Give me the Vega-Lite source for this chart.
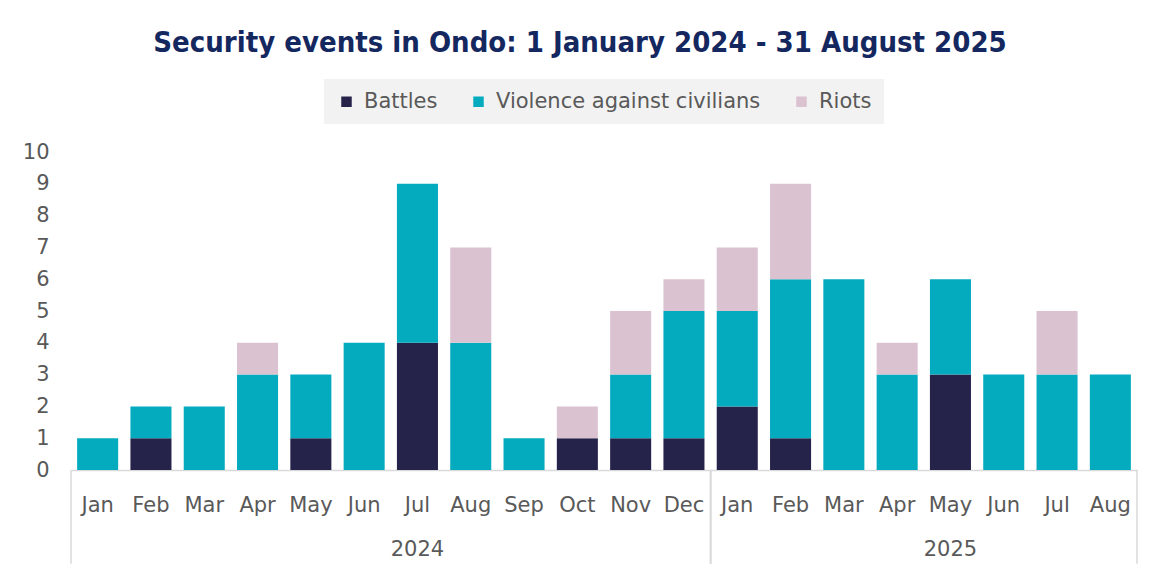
{
  "$schema": "https://vega.github.io/schema/vega-lite/v6.json",
  "width": 1066,
  "height": 318,
  "padding": {"left": 22, "top": 29, "right": 15, "bottom": 3},
  "background": "white",
  "config": {
    "font": "DejaVu Sans",
    "view": {"stroke": null},
    "legend": {"layout": {"top": {"anchor": "middle"}}}
  },
  "title": {
    "text": "Security events in Ondo: 1 January 2024 - 31 August 2025",
    "font": "DejaVu Sans Condensed",
    "fontSize": 29,
    "fontWeight": "bold",
    "color": "#14285f",
    "anchor": "middle",
    "frame": "bounds",
    "offset": 21
  },
  "datasets": {
    "events": [
      {"year": "2024", "month": "Jan", "period": "2024-Jan", "type": "Violence against civilians", "count": 1},
      {"year": "2024", "month": "Feb", "period": "2024-Feb", "type": "Battles", "count": 1},
      {"year": "2024", "month": "Feb", "period": "2024-Feb", "type": "Violence against civilians", "count": 1},
      {"year": "2024", "month": "Mar", "period": "2024-Mar", "type": "Violence against civilians", "count": 2},
      {"year": "2024", "month": "Apr", "period": "2024-Apr", "type": "Violence against civilians", "count": 3},
      {"year": "2024", "month": "Apr", "period": "2024-Apr", "type": "Riots", "count": 1},
      {"year": "2024", "month": "May", "period": "2024-May", "type": "Battles", "count": 1},
      {"year": "2024", "month": "May", "period": "2024-May", "type": "Violence against civilians", "count": 2},
      {"year": "2024", "month": "Jun", "period": "2024-Jun", "type": "Violence against civilians", "count": 4},
      {"year": "2024", "month": "Jul", "period": "2024-Jul", "type": "Battles", "count": 4},
      {"year": "2024", "month": "Jul", "period": "2024-Jul", "type": "Violence against civilians", "count": 5},
      {"year": "2024", "month": "Aug", "period": "2024-Aug", "type": "Violence against civilians", "count": 4},
      {"year": "2024", "month": "Aug", "period": "2024-Aug", "type": "Riots", "count": 3},
      {"year": "2024", "month": "Sep", "period": "2024-Sep", "type": "Violence against civilians", "count": 1},
      {"year": "2024", "month": "Oct", "period": "2024-Oct", "type": "Battles", "count": 1},
      {"year": "2024", "month": "Oct", "period": "2024-Oct", "type": "Riots", "count": 1},
      {"year": "2024", "month": "Nov", "period": "2024-Nov", "type": "Battles", "count": 1},
      {"year": "2024", "month": "Nov", "period": "2024-Nov", "type": "Violence against civilians", "count": 2},
      {"year": "2024", "month": "Nov", "period": "2024-Nov", "type": "Riots", "count": 2},
      {"year": "2024", "month": "Dec", "period": "2024-Dec", "type": "Battles", "count": 1},
      {"year": "2024", "month": "Dec", "period": "2024-Dec", "type": "Violence against civilians", "count": 4},
      {"year": "2024", "month": "Dec", "period": "2024-Dec", "type": "Riots", "count": 1},
      {"year": "2025", "month": "Jan", "period": "2025-Jan", "type": "Battles", "count": 2},
      {"year": "2025", "month": "Jan", "period": "2025-Jan", "type": "Violence against civilians", "count": 3},
      {"year": "2025", "month": "Jan", "period": "2025-Jan", "type": "Riots", "count": 2},
      {"year": "2025", "month": "Feb", "period": "2025-Feb", "type": "Battles", "count": 1},
      {"year": "2025", "month": "Feb", "period": "2025-Feb", "type": "Violence against civilians", "count": 5},
      {"year": "2025", "month": "Feb", "period": "2025-Feb", "type": "Riots", "count": 3},
      {"year": "2025", "month": "Mar", "period": "2025-Mar", "type": "Violence against civilians", "count": 6},
      {"year": "2025", "month": "Apr", "period": "2025-Apr", "type": "Violence against civilians", "count": 3},
      {"year": "2025", "month": "Apr", "period": "2025-Apr", "type": "Riots", "count": 1},
      {"year": "2025", "month": "May", "period": "2025-May", "type": "Battles", "count": 3},
      {"year": "2025", "month": "May", "period": "2025-May", "type": "Violence against civilians", "count": 3},
      {"year": "2025", "month": "Jun", "period": "2025-Jun", "type": "Violence against civilians", "count": 3},
      {"year": "2025", "month": "Jul", "period": "2025-Jul", "type": "Violence against civilians", "count": 3},
      {"year": "2025", "month": "Jul", "period": "2025-Jul", "type": "Riots", "count": 2},
      {"year": "2025", "month": "Aug", "period": "2025-Aug", "type": "Violence against civilians", "count": 3}
    ],
    "types": [
      {"type": "Battles", "rank": 1},
      {"type": "Violence against civilians", "rank": 2},
      {"type": "Riots", "rank": 3}
    ]
  },
  "data": {"name": "events"},
  "resolve": {"axis": {"x": "independent"}},
  "layer": [
    {
      "transform": [
        {"lookup": "type", "from": {"data": {"name": "types"}, "key": "type", "fields": ["rank"]}}
      ],
      "mark": {"type": "bar", "width": {"band": 0.77}},
      "encoding": {
        "x": {
          "field": "period",
          "type": "ordinal",
          "scale": {
            "domain": ["2024-Jan","2024-Feb","2024-Mar","2024-Apr","2024-May","2024-Jun","2024-Jul","2024-Aug","2024-Sep","2024-Oct","2024-Nov","2024-Dec","2025-Jan","2025-Feb","2025-Mar","2025-Apr","2025-May","2025-Jun","2025-Jul","2025-Aug"],
            "paddingInner": 0,
            "paddingOuter": 0
          },
          "axis": {
            "orient": "bottom",
            "title": null,
            "labelExpr": "split(datum.value, '-')[1]",
            "labelAngle": 0,
            "ticks": false,
            "domainColor": "#d9d9d9",
            "domainWidth": 1.5,
            "labelFontSize": 21,
            "labelColor": "#595959",
            "labelPadding": 24
          }
        },
        "y": {
          "field": "count",
          "type": "quantitative",
          "aggregate": "sum",
          "stack": "zero",
          "scale": {"domain": [0, 10], "nice": false},
          "axis": {
            "title": null,
            "values": [0, 1, 2, 3, 4, 5, 6, 7, 8, 9, 10],
            "domain": false,
            "ticks": false,
            "grid": false,
            "labelFontSize": 21,
            "labelColor": "#595959",
            "labelPadding": 22
          }
        },
        "color": {
          "field": "type",
          "type": "nominal",
          "scale": {
            "domain": ["Battles", "Violence against civilians", "Riots"],
            "range": ["#25234a", "#04abbe", "#dbc2d0"]
          },
          "legend": {
            "orient": "top",
            "direction": "horizontal",
            "title": null,
            "fillColor": "#f2f2f2",
            "padding": 12,
            "labelFontSize": 21,
            "labelColor": "#595959",
            "labelLimit": 400,
            "symbolType": "square",
            "symbolSize": 110,
            "symbolStrokeWidth": 0,
            "columnPadding": 30,
            "labelOffset": 7,
            "offset": 28
          }
        },
        "order": {"field": "rank", "type": "quantitative", "sort": "ascending"}
      }
    },
    {
      "transform": [{"filter": "datum.month == 'Jan'"}],
      "mark": {"type": "rule", "color": "#d9d9d9", "strokeWidth": 1.5},
      "encoding": {
        "x": {
          "field": "period",
          "type": "ordinal",
          "bandPosition": 0,
          "axis": {
            "orient": "bottom",
            "title": null,
            "values": ["2024-Jul", "2025-May"],
            "bandPosition": 0,
            "labelExpr": "split(datum.value, '-')[0]",
            "labelAngle": 0,
            "domain": false,
            "ticks": false,
            "labelFontSize": 21,
            "labelColor": "#595959",
            "labelPadding": 68
          }
        },
        "y": {
          "datum": 0,
          "type": "quantitative",
          "axis": {
            "title": null,
            "values": [0, 1, 2, 3, 4, 5, 6, 7, 8, 9, 10],
            "domain": false,
            "ticks": false,
            "grid": false,
            "labelFontSize": 21,
            "labelColor": "#595959",
            "labelPadding": 22
          }
        },
        "y2": {"datum": -2.95}
      }
    },
    {
      "transform": [{"filter": "datum.period == '2025-Aug'"}],
      "mark": {"type": "rule", "color": "#d9d9d9", "strokeWidth": 1.5},
      "encoding": {
        "x": {"field": "period", "type": "ordinal", "bandPosition": 1, "axis": null},
        "y": {
          "datum": 0,
          "type": "quantitative",
          "axis": {
            "title": null,
            "values": [0, 1, 2, 3, 4, 5, 6, 7, 8, 9, 10],
            "domain": false,
            "ticks": false,
            "grid": false,
            "labelFontSize": 21,
            "labelColor": "#595959",
            "labelPadding": 22
          }
        },
        "y2": {"datum": -2.95}
      }
    }
  ]
}
